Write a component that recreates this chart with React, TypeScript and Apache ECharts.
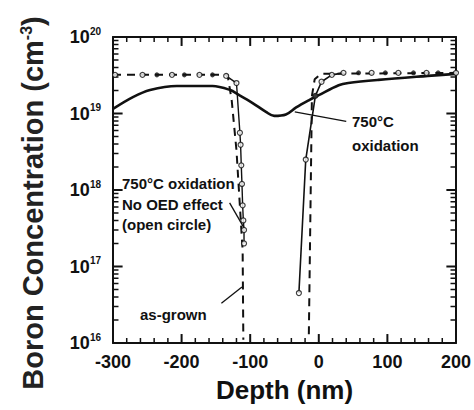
import React, { useEffect, useRef } from "react";
import * as echarts from "echarts";

// ---- axes (depth in nm, boron concentration in cm^-3) ----
const xTickValues = [-300, -200, -100, 0, 100, 200];
const xMinorPerMajor = 5;
const yDecades = [16, 17, 18, 19, 20];
const minorMultipliers = [2, 3, 4, 5, 6, 7, 8, 9];

// as-grown profile (dashed)
const asGrownLeftDepth = [-300, -133, -127, -120, -111, -110];
const asGrownLeftConc = [3.2e19, 3.2e19, 1.5e19, 3.3e18, 1.6e17, 1.1e16];
const asGrownRightDepth = [-14.5, -10, -6, 3, 200];
const asGrownRightConc = [1.3e16, 1.7e19, 2.8e19, 3.3e19, 3.4e19];

// 750C oxidation, no OED effect (open circles)
const oedLeftDepth = [-135, -120, -115, -114, -113, -112, -111, -110, -109, -109];
const oedLeftConc = [3.1e19, 2.5e19, 5.6e18, 3.9e18, 2.1e18, 1.2e18, 6.3e17, 4.0e17, 3.0e17, 2.0e17];
const oedRightDepth = [-29, -19, -5, 4, 19, 36];
const oedRightConc = [4.5e16, 2.5e18, 1.7e19, 2.6e19, 3.2e19, 3.4e19];
const openTopDepth = [-297, -257, -214, -174, 77, 116, 157, 200];
const openTopConc = [3.2e19, 3.2e19, 3.2e19, 3.2e19, 3.4e19, 3.4e19, 3.4e19, 3.4e19];

// filled markers
const filledDepth = [-236, -196, -155, -5, 58, 97, 138, 174];
const filledConc = [3.2e19, 3.2e19, 3.2e19, 1.7e19, 3.4e19, 3.4e19, 3.4e19, 3.4e19];

// 750C oxidation (thick solid)
const oxDepth = [-300, -271, -246, -207, -155, -130, -116, -97, -77, -65, -48, -33, -14, 0, 29, 43, 87, 159, 200];
const oxConc = [1.15e19, 1.64e19, 2.03e19, 2.29e19, 2.29e19, 2.04e19, 1.74e19, 1.38e19, 1.05e19, 9.3e18, 9.7e18, 1.2e19, 1.5e19, 1.74e19, 2.34e19, 2.5e19, 2.75e19, 3.1e19, 3.3e19];

// annotation pointers [[x1,y1],[x2,y2]] in data units
const pointerOx = [[40, 7.9e18], [-35, 1.05e19]];
const pointerOed = [[-130, 6.8e17], [-109, 3.2e17]];
const pointerAsGrown = [[-142, 3.3e16], [-112, 5.4e16]];

const FONT = "Liberation Sans, Arial, Helvetica, sans-serif";
const INK = "#111";

const zip = (xs: number[], ys: number[]) => xs.map((x, i) => [x, ys[i]]);

export default function App() {
  const ref = useRef<HTMLDivElement>(null);
  useEffect(() => {
    if (!ref.current) return;
    const chart = echarts.init(ref.current, undefined, { renderer: "svg" });
    const xMin = xTickValues[0];
    const xMax = xTickValues[xTickValues.length - 1];
    const yMin = Math.pow(10, yDecades[0]);
    const yMax = Math.pow(10, yDecades[yDecades.length - 1]);

    const segLine = (name: string, data: number[][], width: number, type: any = "solid") => ({
      type: "line",
      name,
      data,
      symbol: "none",
      silent: true,
      lineStyle: { color: INK, width, type },
    });

    // tick marks as short segments (tick length expressed in axis units)
    const xMinorVals: number[] = [];
    for (let i = 0; i < xTickValues.length - 1; i++) {
      const step = (xTickValues[i + 1] - xTickValues[i]) / xMinorPerMajor;
      for (let k = 1; k < xMinorPerMajor; k++) xMinorVals.push(xTickValues[i] + k * step);
    }
    const yMajorVals = yDecades.map((d) => Math.pow(10, d));
    const yMinorVals: number[] = [];
    for (let i = 0; i < yDecades.length - 1; i++) {
      for (const k of minorMultipliers) yMinorVals.push(k * Math.pow(10, yDecades[i]));
    }
    const majorYFactor = 1.31; // vertical tick length on the log axis
    const minorYFactor = 1.16;
    const majorXLen = 14; // horizontal tick length in nm
    const minorXLen = 8;
    const tickSeries: any[] = [];
    xTickValues.forEach((x) => {
      tickSeries.push(segLine("t", [[x, yMin], [x, yMin * majorYFactor]], 2));
      tickSeries.push(segLine("t", [[x, yMax], [x, yMax / majorYFactor]], 2));
    });
    xMinorVals.forEach((x) => {
      tickSeries.push(segLine("t", [[x, yMin], [x, yMin * minorYFactor]], 1.5));
      tickSeries.push(segLine("t", [[x, yMax], [x, yMax / minorYFactor]], 1.5));
    });
    yMajorVals.forEach((v) => {
      tickSeries.push(segLine("t", [[xMin, v], [xMin + majorXLen, v]], 2));
      tickSeries.push(segLine("t", [[xMax, v], [xMax - majorXLen, v]], 2));
    });
    yMinorVals.forEach((v) => {
      tickSeries.push(segLine("t", [[xMin, v], [xMin + minorXLen, v]], 1.5));
      tickSeries.push(segLine("t", [[xMax, v], [xMax - minorXLen, v]], 1.5));
    });

    const mkAxisLine = () => ({ show: true, onZero: false, lineStyle: { color: INK, width: 2 } });
    const textStyle = { fontFamily: FONT, fontWeight: "bold" as const, fontSize: 15, fill: INK };

    chart.setOption({
      animation: false,
      grid: { left: 113, right: 16, top: 37, bottom: 67 },
      xAxis: [
        {
          type: "value",
          min: xMin,
          max: xMax,
          interval: 100,
          position: "bottom",
          axisLine: mkAxisLine(),
          axisTick: { show: false },
          splitLine: { show: false },
          name: "Depth (nm)",
          nameLocation: "middle",
          nameGap: 34,
          nameTextStyle: { fontFamily: FONT, fontWeight: "bold", fontSize: 26, color: INK },
          axisLabel: { fontFamily: FONT, fontWeight: "bold", fontSize: 18, color: INK, margin: 10 },
        },
        {
          type: "value",
          min: xMin,
          max: xMax,
          interval: 100,
          position: "top",
          axisLine: mkAxisLine(),
          axisTick: { show: false },
          splitLine: { show: false },
          axisLabel: { show: false },
        },
      ],
      yAxis: [
        {
          type: "log",
          min: yMin,
          max: yMax,
          position: "left",
          axisLine: mkAxisLine(),
          axisTick: { show: false },
          splitLine: { show: false },
          name: "Boron Concentration (cm{sup|-3})",
          nameLocation: "middle",
          nameRotate: 90,
          nameGap: 66,
          nameTextStyle: {
            fontFamily: FONT,
            fontWeight: "bold",
            fontSize: 29,
            color: "#222",
            padding: [0, 26, 0, 0],
            rich: { sup: { fontFamily: FONT, fontWeight: "bold", fontSize: 16, color: "#222", verticalAlign: "top" } },
          },
          axisLabel: {
            margin: 12,
            formatter: (v: number) => `{b|10}{s|${Math.round(Math.log10(v))}}`,
            rich: {
              b: { fontFamily: FONT, fontWeight: "bold", fontSize: 18, color: INK, lineHeight: 22 },
              s: { fontFamily: FONT, fontWeight: "bold", fontSize: 10, color: INK, verticalAlign: "top", lineHeight: 12 },
            },
          },
        },
        {
          type: "log",
          min: yMin,
          max: yMax,
          position: "right",
          axisLine: mkAxisLine(),
          axisTick: { show: false },
          splitLine: { show: false },
          axisLabel: { show: false },
        },
      ],
      series: [
        ...tickSeries,
        segLine("as-grown left", zip(asGrownLeftDepth, asGrownLeftConc), 2, [8, 6]),
        segLine("as-grown right", zip(asGrownRightDepth, asGrownRightConc), 2, [8, 6]),
        { ...segLine("750C oxidation", zip(oxDepth, oxConc), 2.6), smooth: 0.35 },
        segLine("no OED left", zip(oedLeftDepth, oedLeftConc), 1.4),
        segLine("no OED right", zip(oedRightDepth, oedRightConc), 1.6),
        segLine("pointer ox", pointerOx, 1.3),
        segLine("pointer oed", pointerOed, 1.3),
        segLine("pointer as-grown", pointerAsGrown, 1.3),
        {
          type: "scatter",
          name: "open circles",
          silent: true,
          data: [
            ...zip(openTopDepth, openTopConc),
            ...zip(oedLeftDepth, oedLeftConc),
            ...zip(oedRightDepth, oedRightConc),
          ],
          symbol: "circle",
          symbolSize: 5,
          itemStyle: { color: "#fff", borderColor: INK, borderWidth: 1.2 },
          z: 3,
        },
        {
          type: "scatter",
          name: "filled",
          silent: true,
          data: zip(filledDepth, filledConc),
          symbol: "circle",
          symbolSize: 5,
          itemStyle: { color: INK },
          z: 3,
        },
      ],
      graphic: [
        { type: "text", left: 122, top: 176, style: { ...textStyle, text: "750°C oxidation" } },
        { type: "text", left: 122, top: 197, style: { ...textStyle, text: "No OED effect" } },
        { type: "text", left: 122, top: 217, style: { ...textStyle, text: "(open circle)" } },
        { type: "text", left: 140, top: 307, style: { ...textStyle, text: "as-grown" } },
        { type: "text", left: 352, top: 114, style: { ...textStyle, text: "750°C" } },
        { type: "text", left: 352, top: 138, style: { ...textStyle, text: "oxidation" } },
      ],
    });
    return () => chart.dispose();
  }, []);
  return <div ref={ref} style={{ position: "absolute", left: 0, top: 0, width: 474, height: 410 }} />;
}
